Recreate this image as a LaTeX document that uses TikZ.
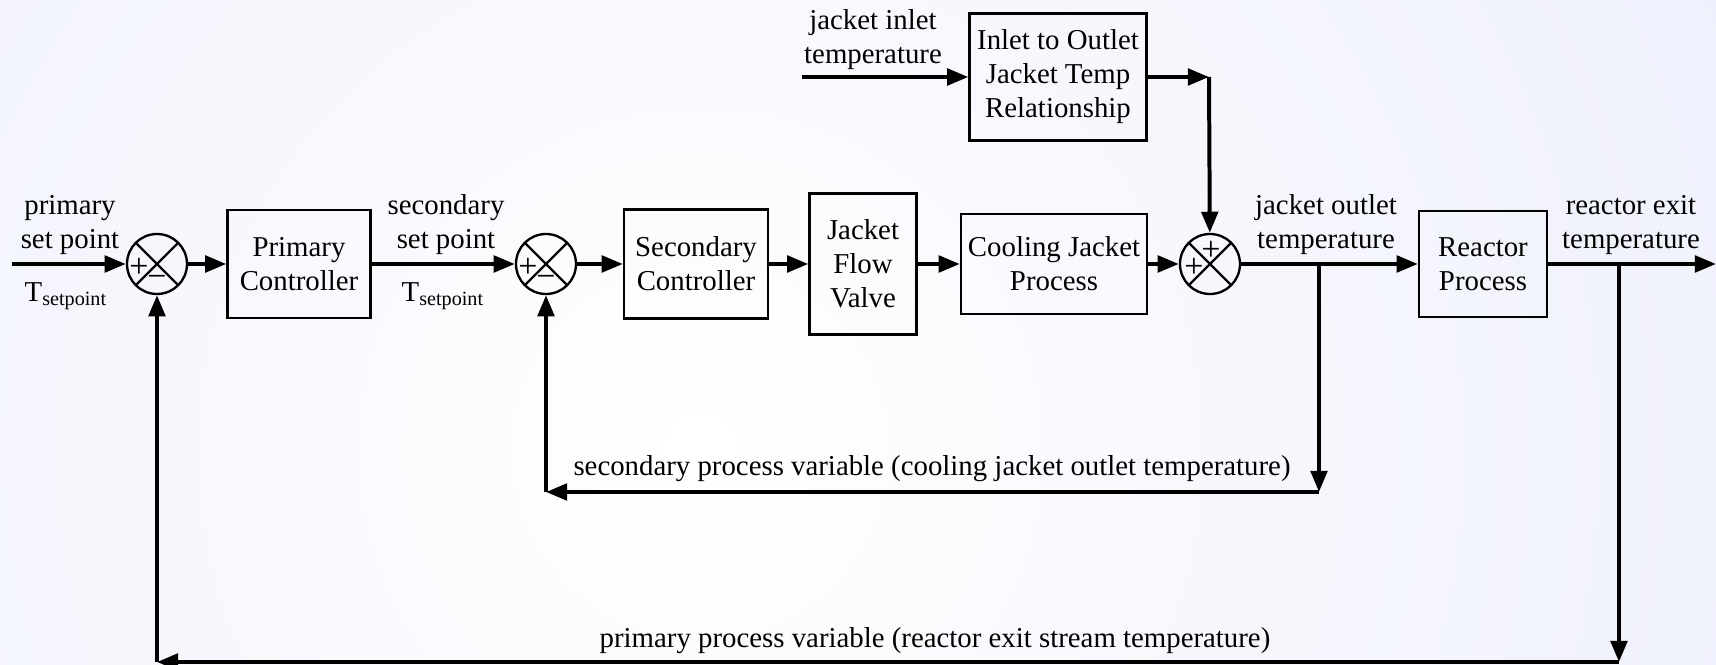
\documentclass[tikz,border=0pt]{standalone}
\usepackage{fontspec}
\setmainfont{Liberation Serif}
\usetikzlibrary{arrows.meta}
\definecolor{bglavender}{RGB}{222,226,248}

\begin{document}
\begin{tikzpicture}[x=0.015cm, y=-0.015cm,
    font=\fontsize{12.3pt}{14.5pt}\selectfont,
    block/.style={draw, line width=1pt, align=center, inner sep=0pt},
    junction/.style={draw, circle, line width=1pt, minimum size=0.9cm, inner sep=0pt,
        path picture={\draw[line width=1pt]
            (path picture bounding box.north west) -- (path picture bounding box.south east)
            (path picture bounding box.north east) -- (path picture bounding box.south west);}},
    sign/.style={inner sep=0pt, font=\fontsize{14.5pt}{16pt}\selectfont},
    signal/.style={line width=1.7pt, -{Triangle[length=9pt,width=7pt]}}]

    % Frame and light background
    \useasboundingbox (0,0) rectangle (1716,665);
    \begin{scope}
        \clip (0,0) rectangle (1716,665);
        \shade[inner color=white, outer color=bglavender] (-1500,-1750) rectangle (2900,2650);
    \end{scope}

    % Summing junctions and blocks along the main line
    \node[junction] (s1) at (157,264) {};
    \node[block, minimum width=2.145cm, minimum height=1.62cm] (pc) at (299,264) {Primary\\Controller};
    \node[junction] (s2) at (546,264) {};
    \node[block, minimum width=2.16cm, minimum height=1.635cm] (sc) at (696,264) {Secondary\\Controller};
    \node[block, minimum width=1.605cm, minimum height=2.115cm] (valve) at (863,264) {Jacket\\Flow\\Valve};
    \node[block, minimum width=2.79cm, minimum height=1.5cm] (cool) at (1054,264) {Cooling Jacket\\Process};
    \node[junction] (s3) at (1210,264) {};
    \node[block, minimum width=1.92cm, minimum height=1.59cm] (reactor) at (1483,264) {Reactor\\Process};
    \node[block, minimum width=2.655cm, minimum height=1.905cm] (inlet) at (1058,77) {Inlet to Outlet\\Jacket Temp\\Relationship};

    % Signs in the junctions
    \node[sign] (s1plus) at ([shift={(-18,4)}]s1.center) {+};
    \node[sign] (s1minus) at ([shift={(0,17)}]s1.center) {−};
    \node[sign] (s2plus) at ([shift={(-18,4)}]s2.center) {+};
    \node[sign] (s2minus) at ([shift={(0,17)}]s2.center) {−};
    \node[sign] (s3left) at ([shift={(-16,4)}]s3.center) {+};
    \node[sign] (s3top) at ([shift={(1,-13)}]s3.center) {+};

    % Free ends and corners of the connectors
    \coordinate (in) at (12,264);
    \coordinate (out) at (1716,264);
    \coordinate (jin) at (802,77);
    \coordinate (jturn) at (1209,77);
    \coordinate (b1) at (1319,264);
    \coordinate (b1low) at (1319,492);
    \coordinate (s2low) at (546,492);
    \coordinate (b2) at (1619,264);
    \coordinate (b2low) at (1619,662);
    \coordinate (s1low) at (157,662);

    % Forward path
    \draw[signal] (in) -- (s1);
    \draw[signal] (s1) -- (pc);
    \draw[signal] (pc) -- (s2);
    \draw[signal] (s2) -- (sc);
    \draw[signal] (sc) -- (valve);
    \draw[signal] (valve) -- (cool);
    \draw[signal] (cool) -- (s3);
    \draw[signal] (s3) -- (reactor);
    \draw[signal] (reactor) -- (out);

    % Jacket inlet disturbance
    \draw[signal] (jin) -- (inlet);
    \draw[signal] (inlet) -- (jturn);
    \draw[signal] (jturn) -- (s3);

    % Secondary loop
    \draw[signal] (b1) -- (b1low);
    \draw[signal] (b1low) -- (s2low);
    \draw[signal] (s2low) -- (s2);

    % Primary loop
    \draw[signal] (b2) -- (b2low);
    \draw[signal] (b2low) -- (s1low);
    \draw[signal] (s1low) -- (s1);

    % Signal labels
    \node[align=center] (pspt) at (70,225) {primary\\set point};
    \node (pT) at (66,296) {T\textsubscript{setpoint}};
    \node[align=center] (sspt) at (446,225) {secondary\\set point};
    \node (sT) at (443,296) {T\textsubscript{setpoint}};
    \node[align=center] (jinlbl) at (873,40) {jacket inlet\\temperature};
    \node[align=center] (joutlbl) at (1326,225) {jacket outlet\\temperature};
    \node[align=center] (rexitlbl) at (1631,225) {reactor exit\\temperature};
    \node (spv) at (932,469) {secondary process variable (cooling jacket outlet temperature)};
    \node (ppv) at (935,641) {primary process variable (reactor exit stream temperature)};

\end{tikzpicture}
\end{document}
